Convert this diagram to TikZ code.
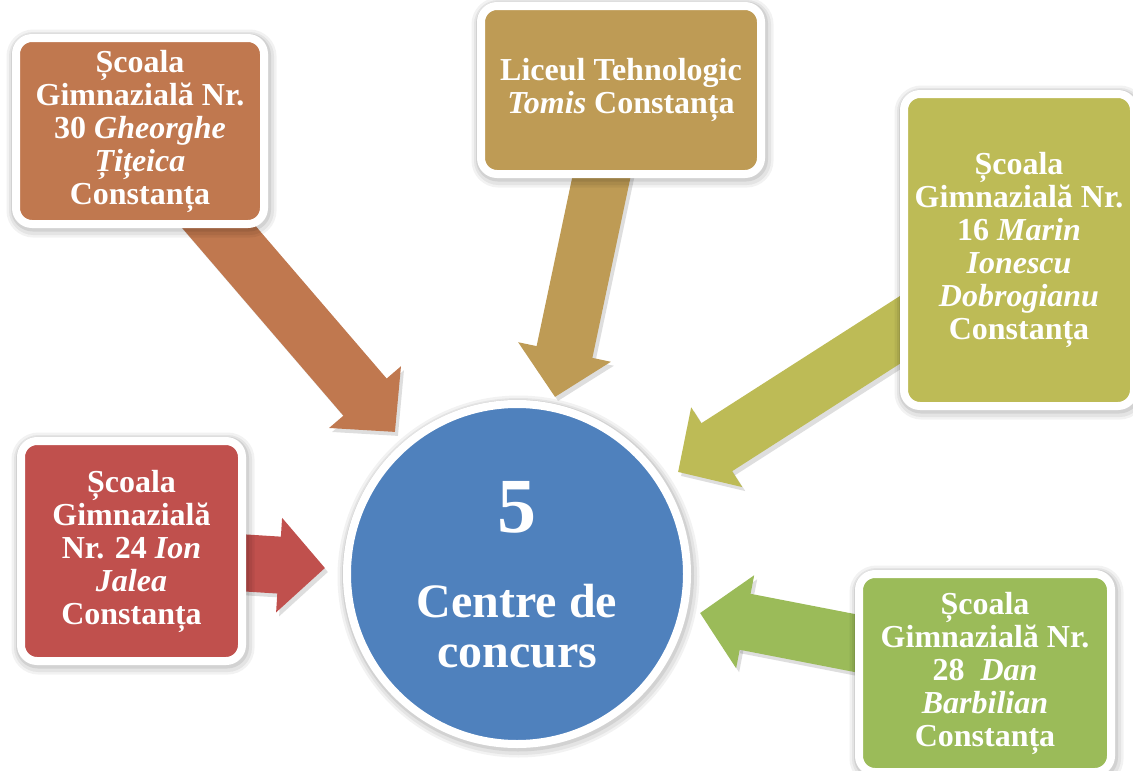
\documentclass[tikz,border=0pt]{standalone}
\usepackage{fontspec}
\setmainfont{Liberation Serif}
\usetikzlibrary{arrows.meta,calc}
\definecolor{cbrown}{HTML}{C0784F}
\definecolor{cgold}{HTML}{BE9B55}
\definecolor{colive}{HTML}{BDBB56}
\definecolor{cred}{HTML}{C0504D}
\definecolor{cgreen}{HTML}{9BBB59}
\definecolor{cblue}{HTML}{4F81BD}
\newcommand\schoolfont{\fontsize{32}{33}\bfseries\selectfont}
\newcommand\bignumfont{\fontsize{78}{78}\bfseries\selectfont}
\newcommand\centrefont{\fontsize{48}{50}\bfseries\selectfont}
\pgfdeclarelayer{bg}
\pgfsetlayers{bg,main}
\begin{document}
\begin{tikzpicture}[x=1pt,y=-1pt,
  softshadow/.style={
    preaction={draw=black, draw opacity=.05, line width=22pt, transform canvas={xshift=1.5pt,yshift=-2.5pt}},
    preaction={draw=black, draw opacity=.06, line width=17pt, transform canvas={xshift=1.5pt,yshift=-2.5pt}},
    preaction={draw=black, draw opacity=.08, line width=12pt, transform canvas={xshift=1pt,yshift=-1.5pt}}},
  schoolbox/.style={draw=white, line width=8pt, rounded corners=16pt, inner sep=0pt,
    align=center, text=white, font=\schoolfont, softshadow},
  blockarrow/.style={line width=57pt, -{Triangle[length=46pt,width=92pt]}},
  arrowshadow/.style={blockarrow, draw=black, opacity=.13, transform canvas={xshift=3pt,yshift=-4pt}},
  centretext/.style={text=white, align=center}
]
\useasboundingbox (0,0) rectangle (1133,771);

% school boxes
\node[schoolbox, fill=cbrown, minimum width=248pt, minimum height=186pt] (b1) at (140,131)
  {Școala\\Gimnazială Nr.\\30 \textit{Gheorghe}\\\textit{Țițeica}\\Constanța};
\node[schoolbox, fill=cgold, minimum width=280pt, minimum height=168pt] (b2) at (621,90)
  {Liceul Tehnologic\\\textit{Tomis} Constanța};
\node[schoolbox, fill=colive, minimum width=230pt, minimum height=312pt] (b3) at (1019,250)
  {Școala\\Gimnazială Nr.\\16 \textit{Marin}\\\textit{Ionescu}\\\textit{Dobrogianu}\\Constanța};
\node[schoolbox, fill=cred, minimum width=221pt, minimum height=220pt] (b4) at (131.5,551)
  {Școala\\Gimnazială\\Nr. 24 \textit{Ion}\\\textit{Jalea}\\Constanța};
\node[schoolbox, fill=cgreen, minimum width=252pt, minimum height=198pt] (b5) at (985,673)
  {Școala\\Gimnazială Nr.\\28~ \textit{Dan}\\\textit{Barbilian}\\Constanța};

% centre circle
\node[circle, draw=white, line width=8pt, fill=cblue, minimum size=340pt, inner sep=0pt, softshadow] (centre) at (517,574) {};
\node[centretext, font=\bignumfont, anchor=base] (num) at (517,532) {5};
\node[centretext, font=\centrefont] (ctext) at (517,626) {Centre de\\concurs};

% arrow tips
\coordinate (t1) at (395,432);
\coordinate (t2) at (555,397);
\coordinate (t3) at (678,472);
\coordinate (t4) at (325,568);
\coordinate (t5) at (700,613);

\begin{pgfonlayer}{bg}
  \draw[arrowshadow] ([shift={(60,74)}]b1.center) -- (t1);
  \draw[arrowshadow] ([shift={(-16,70)}]b2.center) -- (t2);
  \draw[arrowshadow] ([shift={(-99,67)}]b3.center) -- (t3);
  \draw[arrowshadow] ([shift={(98.5,11)}]b4.center) -- (t4);
  \draw[arrowshadow] ([shift={(-115,-27)}]b5.center) -- (t5);
  \draw[blockarrow, draw=cbrown] ([shift={(60,74)}]b1.center) -- (t1);
  \draw[blockarrow, draw=cgold] ([shift={(-16,70)}]b2.center) -- (t2);
  \draw[blockarrow, draw=colive] ([shift={(-99,67)}]b3.center) -- (t3);
  \draw[blockarrow, draw=cred] ([shift={(98.5,11)}]b4.center) -- (t4);
  \draw[blockarrow, draw=cgreen] ([shift={(-115,-27)}]b5.center) -- (t5);
\end{pgfonlayer}
\end{tikzpicture}
\end{document}
